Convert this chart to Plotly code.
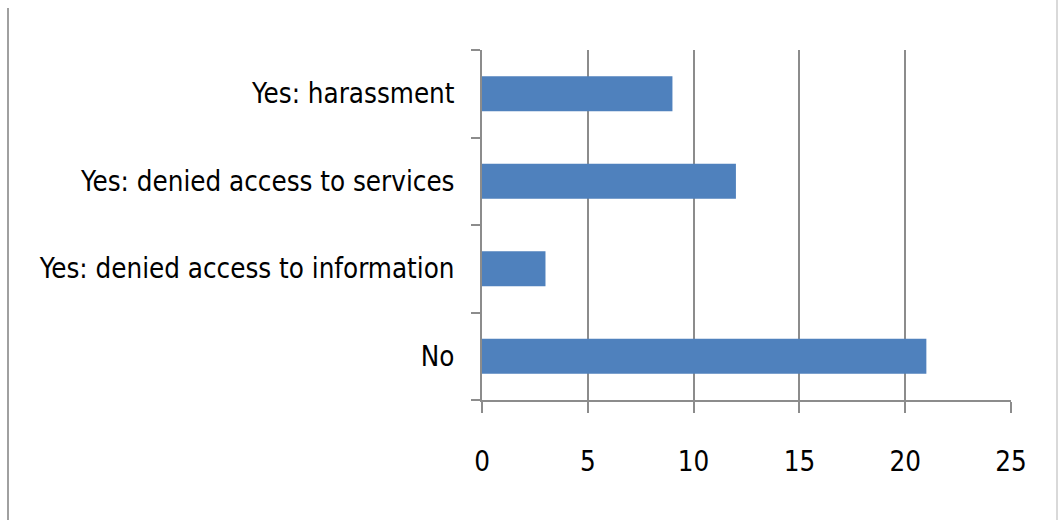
import plotly.graph_objects as go

# Survey responses, listed bottom-to-top as drawn on the category axis
categories = ["No", "Yes: denied access to information", "Yes: denied access to services", "Yes: harassment"]
counts = [21, 3, 12, 9]
x_ticks = [0, 5, 10, 15, 20, 25]

W, H = 1059, 520
L, R, T, B = 482, 48, 50, 120
FONT = "Liberation Sans Narrow, DejaVu Sans Condensed, Roboto, sans-serif"
FSIZE = 27.5
GRID = "#8c8c8c"

fig = go.Figure(
    go.Bar(
        x=counts,
        y=categories,
        orientation="h",
        marker=dict(color="#4F81BD", line=dict(width=0)),
        hoverinfo="x+y",
    )
)

fig.update_layout(
    width=W,
    height=H,
    margin=dict(l=L, r=R, t=T, b=B, autoexpand=False),
    paper_bgcolor="white",
    plot_bgcolor="white",
    bargap=0.6,
    showlegend=False,
    font=dict(family=FONT, size=FSIZE, color="black"),
)

fig.update_xaxes(
    range=[0, 25],
    tickvals=x_ticks,
    ticktext=[str(v) for v in x_ticks],
    showgrid=True,
    gridcolor=GRID,
    gridwidth=2,
    zeroline=False,
    showline=True,
    linecolor=GRID,
    linewidth=2,
    ticks="outside",
    ticklen=11,
    tickwidth=2,
    tickcolor=GRID,
    ticklabelstandoff=25,
    tickfont=dict(family=FONT, size=FSIZE, color="black"),
    fixedrange=True,
)

fig.update_yaxes(
    type="category",
    categoryorder="array",
    categoryarray=categories,
    showgrid=False,
    zeroline=False,
    showline=True,
    linecolor=GRID,
    linewidth=2,
    ticks="outside",
    tickson="boundaries",
    ticklen=9,
    tickwidth=2,
    tickcolor=GRID,
    ticklabelstandoff=20,
    tickfont=dict(family=FONT, size=FSIZE, color="black"),
    fixedrange=True,
)

# Outer frame lines at the left and right edges of the page
fig.add_shape(
    type="line", xref="paper", yref="paper",
    x0=(8 - L) / (W - L - R), x1=(8 - L) / (W - L - R),
    y0=(H - B - 8) / (H - T - B), y1=-B / (H - T - B),
    line=dict(color="#a0a0a0", width=2),
)
fig.add_shape(
    type="line", xref="paper", yref="paper",
    x0=(W - 2 - L) / (W - L - R), x1=(W - 2 - L) / (W - L - R),
    y0=(H - B) / (H - T - B), y1=-B / (H - T - B),
    line=dict(color="#d9d9d9", width=2),
)

fig.write_html("out.html", config={"displayModeBar": False})
